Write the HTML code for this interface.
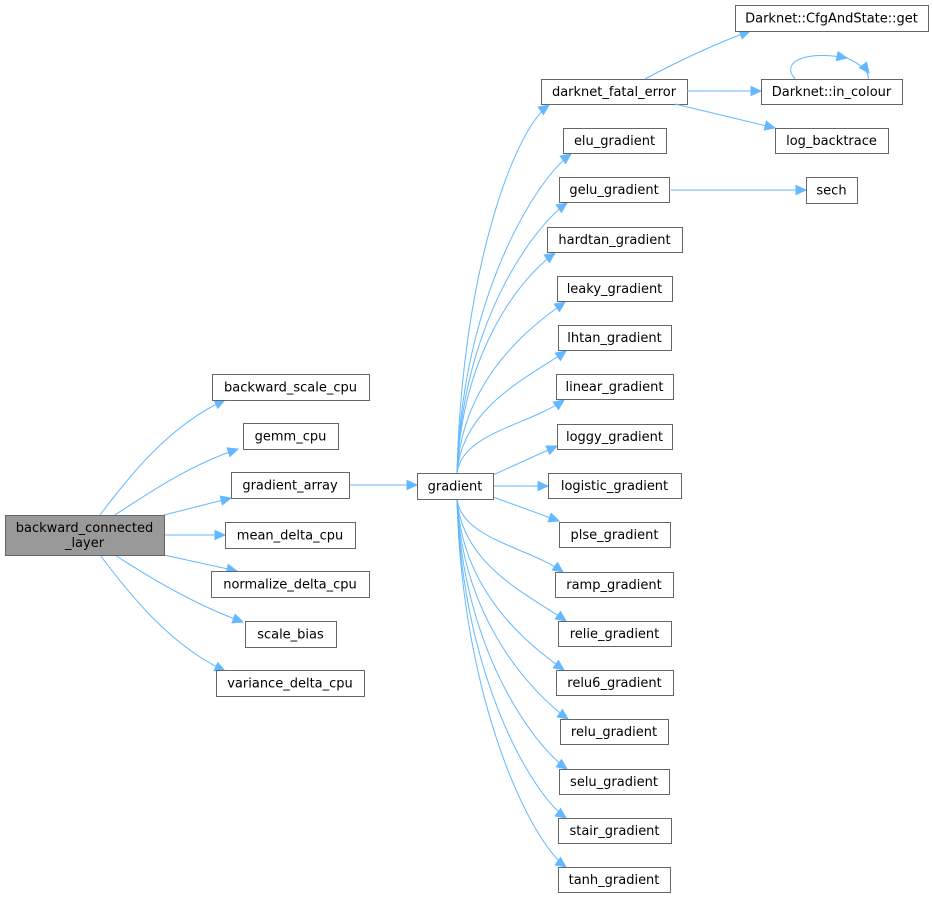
<!DOCTYPE html>
<html><head><meta charset="utf-8"><style>
html,body{margin:0;padding:0;background:#fff;}
svg{display:block;}
text{font-family:"DejaVu Sans","Liberation Sans",sans-serif;font-size:13px;fill:#000;}
</style></head><body>
<svg id="g" width="933" height="899" viewBox="0 0 933 899" xmlns="http://www.w3.org/2000/svg"></svg>
<script>
const S=document.getElementById('g');const NS='http://www.w3.org/2000/svg';
function el(t,a,txt){const e=document.createElementNS(NS,t);for(const k in a)e.setAttribute(k,a[k]);if(txt!==undefined)e.textContent=txt;S.appendChild(e);return e;}
const C='#63b8ff';
function arrow(x1,y1,x2,y2){const dx=x2-x1,dy=y2-y1,l=Math.hypot(dx,dy)||1,ux=dx/l,uy=dy/l,L=10,W=4.5;
 const bx=x2-ux*L,by=y2-uy*L;
 el('polygon',{points:`${x2},${y2} ${bx-uy*W},${by+ux*W} ${bx+uy*W},${by-ux*W}`,fill:C,stroke:C});}
function edge(x0,y0,c1x,c1y,c2x,c2y,x,y){el('path',{d:`M${x0},${y0} C${c1x},${c1y} ${c2x},${c2y} ${x},${y}`,fill:'none',stroke:C,'stroke-width':1});arrow(c2x,c2y,x,y);}
function line(x0,y0,x,y){el('path',{d:`M${x0},${y0} L${x},${y}`,fill:'none',stroke:C});arrow(x0,y0,x,y);}
function box(x1,x2,y1,y2,lines,fill){el('rect',{x:x1+.5,y:y1+.5,width:x2-x1,height:y2-y1,fill:fill||'#fff',stroke:'#666'});
 const cx=(x1+x2)/2,cy=(y1+y2)/2;
 if(lines.length==1)el('text',{x:cx,y:cy+4.5,'text-anchor':'middle'},lines[0]);
 else{el('text',{x:cx,y:cy-3,'text-anchor':'middle'},lines[0]);el('text',{x:cx,y:cy+12,'text-anchor':'middle'},lines[1]);}}
edge(100,515,130,475,170,425,225,400);
edge(115,515,150,492,190,465,238,449);
line(164,515,231,498);
line(164,535,225,535);
line(164,555,237,571);
edge(115,555,150,578,195,605,243,622);
edge(100,555,130,595,170,645,225,671);
line(349,485,417,485);
const R=[["darknet_fatal_error",541,687,79],["elu_gradient",563,666,128],["gelu_gradient",559,669,177],["hardtan_gradient",547,682,227],["leaky_gradient",557,672,276],["lhtan_gradient",558,671,325],["linear_gradient",556,673,374],["loggy_gradient",557,672,424],["logistic_gradient",548,681,473],["plse_gradient",559,670,522],["ramp_gradient",555,673,572],["relie_gradient",558,671,621],["relu6_gradient",556,673,670],["relu_gradient",560,668,719],["selu_gradient",559,669,769],["stair_gradient",558,671,818],["tanh_gradient",558,670,867]];
R.forEach((r,i)=>{const [n,x1,x2,y]=r;
 if(i==8){line(493,486,548,486);}
 else if(i==7){line(493,475,557,446);}
 else if(i==9){line(493,497,559,521);}
 else if(i<7){const ex=x1+8,ey=y+26;edge(457,473,462,473-(473-ey)*0.55,ex-35,ey+25,ex,ey);}
 else {const ex=x1+8,ey=y;edge(457,499,462,499+(ey-499)*0.55,ex-35,ey-25,ex,ey);}
 box(x1,x2,y,y+25,[n]);});
edge(645,79,680,60,720,42,750,31);
line(687,91,761,91);
line(675,104,775,128);
line(669,190,806,190);
edge(795,79,780,62,805,50,847,58);
el('path',{d:'M847,58 C860,64 870,72 868,79',fill:'none',stroke:C});
arrow(863,65,869,73);
box(735,928,5,31,["Darknet::CfgAndState::get"]);
box(761,902,79,104,["Darknet::in_colour"]);
box(775,888,128,153,["log_backtrace"]);
box(806,857,177,203,["sech"]);
box(5,164,515,555,["backward_connected","_layer"],'#999');
box(212,369,374,400,["backward_scale_cpu"]);
box(243,338,423,449,["gemm_cpu"]);
box(231,349,472,498,["gradient_array"]);
box(225,355,522,548,["mean_delta_cpu"]);
box(211,369,571,597,["normalize_delta_cpu"]);
box(245,336,621,647,["scale_bias"]);
box(216,364,670,696,["variance_delta_cpu"]);
box(417,493,473,499,["gradient"]);
</script>
</body></html>
